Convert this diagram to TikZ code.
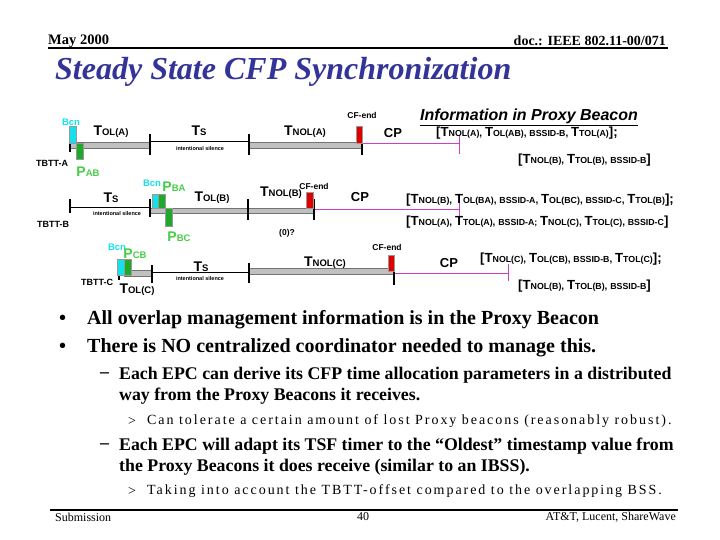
\documentclass[tikz,border=0pt]{standalone}
\usepackage{fontspec}
\setmainfont{Liberation Serif}
\setsansfont{Liberation Sans}
\usetikzlibrary{positioning}

\definecolor{titleblue}{RGB}{51,51,153}
\definecolor{bcncyan}{RGB}{20,225,235}
\definecolor{pgreen}{RGB}{30,170,40}
\definecolor{lblgreen}{RGB}{70,205,70}
\definecolor{cpmag}{RGB}{205,60,205}
\definecolor{cfred}{RGB}{225,0,0}
\definecolor{bargray}{RGB}{192,192,192}

\newcommand{\sz}[1]{\fontsize{#1}{#1}\selectfont}
% big letter + small caps-like suffix
\newcommand{\bigT}[2]{{\sz{14}#1}{\sz{9.5}#2}}
\newcommand{\smT}[2]{{\sz{13.2}#1}{\sz{8.8}#2}}

\begin{document}
\begin{tikzpicture}[x=1pt,y=-1pt,
    lbl/.style={font=\sffamily\bfseries,inner sep=0pt},
    tlbl/.style={lbl,font=\sffamily\bfseries\sz{9}},
    silence/.style={lbl,font=\sffamily\bfseries\sz{5.5}},
    cplbl/.style={lbl,font=\sffamily\bfseries\sz{13}},
    cflbl/.style={lbl,font=\sffamily\bfseries\sz{8.5}},
    bcnlbl/.style={lbl,font=\sffamily\bfseries\sz{9.5},text=bcncyan},
    plbl/.style={lbl,text=lblgreen},
    info/.style={lbl,anchor=west},
    tickmark/.style={line width=2.2pt},
    grbar/.style={fill=bargray,draw=black!55,line width=0.4pt},
    silent/.style={line width=1pt},
    cpline/.style={cpmag,line width=0.9pt},
    bcnbox/.style={fill=bcncyan,draw=black!40,line width=0.3pt},
    pbox/.style={fill=pgreen,draw=black!40,line width=0.3pt},
    cfbox/.style={fill=cfred,draw=black!40,line width=0.3pt},
    bul/.style={anchor=west,inner sep=0pt,font=\bfseries\sz{20}},
    sub/.style={anchor=west,inner sep=0pt,font=\bfseries\sz{17.8}},
    subsub/.style={anchor=west,inner sep=0pt,font=\sz{14}\addfontfeature{LetterSpace=14}},
    foot/.style={inner sep=0pt,font=\sz{12}}]
  \useasboundingbox (0,0) rectangle (720,540);

  % header
  \node[anchor=west,inner sep=0pt,font=\bfseries\sz{14.5}] (hdate) at (48,41) {May 2000};
  \node[anchor=east,inner sep=0pt,font=\bfseries\sz{14}] (hdoc) at (666,41) {doc.: IEEE 802.11-00/071};
  \draw[line width=1.6pt] (48,48) -- (668,48);
  \node[anchor=west,inner sep=0pt,text=titleblue,font=\bfseries\itshape\sz{32}] (title) at (55,72)
    {Steady State CFP Synchronization};

  % row A
  \draw[grbar] (70,142) rectangle (150,148);
  \draw[silent] (150,142) -- (249,142);
  \draw[grbar] (249,142) rectangle (362,148);
  \draw[cpline] (362,143) -- (459,143);
  \draw[cpline] (459,135) -- (459,154);
  \draw[tickmark] (70,142) -- (70,152);
  \draw[tickmark] (150,134) -- (150,155);
  \draw[tickmark] (249,134) -- (249,155);
  \draw[tickmark] (362,142) -- (362,155);
  \draw[bcnbox] (69,126) rectangle (76,143);
  \draw[pbox] (76,143) rectangle (83,159);
  \draw[cfbox] (356,126) rectangle (362,143);
  \node[bcnlbl] (bcnA) at (71,122) {Bcn};
  \node[plbl] (pAB) at (88,172) {\bigT{P}{AB}};
  \node[tlbl] (tbttA) at (52,163) {TBTT-A};
  \node[lbl] (tolA) at (111,132) {\bigT{T}{OL(A)}};
  \node[lbl] (tsA) at (199,131) {\bigT{T}{S}};
  \node[silence] (silA) at (200,149) {intentional silence};
  \node[lbl] (tnolA) at (305,132) {\bigT{T}{NOL(A)}};
  \node[cflbl] (cfA) at (362,115) {CF-end};
  \node[cplbl] (cpA) at (393,133) {CP};

  % proxy beacon info
  \node[lbl,font=\sffamily\bfseries\itshape\sz{16}] (infohd) at (529,117)
    {\underline{Information in Proxy Beacon}};
  \node[info] (infoA1) at (436,133)
    {\smT{[T}{NOL(A)}, \smT{T}{OL(AB)}, {\sz{8.8}BSSID-B}, \smT{T}{TOL(A)}\smT{];}{}};
  \node[info] (infoA2) at (518,160)
    {\smT{[T}{NOL(B)}, \smT{T}{TOL(B)}, {\sz{8.8}BSSID-B}\smT{]}{}};

  % row B
  \draw[silent] (70,208) -- (150,208);
  \draw[grbar] (150,208) rectangle (314,213);
  \draw[cpline] (314,209) -- (459,209);
  \draw[cpline] (459,201) -- (459,218);
  \draw[tickmark] (70,199) -- (70,213);
  \draw[tickmark] (150,199) -- (150,217);
  \draw[tickmark] (248,199) -- (248,220);
  \draw[tickmark] (314,199) -- (314,220);
  \draw[bcnbox] (152,194) rectangle (158,208);
  \draw[pbox] (158,194) rectangle (165,208);
  \draw[pbox] (165,208) rectangle (172,226);
  \draw[cfbox] (306,192) rectangle (313,208);
  \node[tlbl] (tbttB) at (53,224) {TBTT-B};
  \node[lbl] (tsB) at (111,198) {\bigT{T}{S}};
  \node[silence] (silB) at (117,214) {intentional silence};
  \node[bcnlbl] (bcnB) at (152,183) {Bcn};
  \node[plbl] (pBA) at (174,187) {\bigT{P}{BA}};
  \node[plbl] (pBC) at (179,237) {\bigT{P}{BC}};
  \node[lbl] (tolB) at (212,198) {\bigT{T}{OL(B)}};
  \node[lbl] (tnolB) at (281,193) {\bigT{T}{NOL(B)}};
  \node[cflbl] (cfB) at (314,186) {CF-end};
  \node[tlbl,font=\sffamily\bfseries\sz{8.5}] (zeroB) at (287,233) {(0)?};
  \node[cplbl] (cpB) at (360,197) {CP};
  \node[info] (infoB1) at (406,200)
    {\smT{[T}{NOL(B)}, \smT{T}{OL(BA)}, {\sz{8.8}BSSID-A}, \smT{T}{OL(BC)}, {\sz{8.8}BSSID-C}, \smT{T}{TOL(B)}\smT{];}{}};
  \node[info] (infoB2) at (406,222)
    {\smT{[T}{NOL(A)}, \smT{T}{TOL(A)}, {\sz{8.8}BSSID-A;} \smT{T}{NOL(C)}, \smT{T}{TOL(C)}, {\sz{8.8}BSSID-C}\smT{]}{}};

  % row C
  \draw[grbar] (124,270) rectangle (152,276);
  \draw[silent] (152,272) -- (249,272);
  \draw[grbar] (249,268) rectangle (394,274);
  \draw[cpline] (394,273) -- (508,273);
  \draw[cpline] (508,264) -- (508,281);
  \draw[tickmark] (119,274) -- (119,280);
  \draw[tickmark] (152,265) -- (152,283);
  \draw[tickmark] (249,263) -- (249,283);
  \draw[tickmark] (394,268) -- (394,285);
  \draw[bcnbox] (117,259) rectangle (124,275);
  \draw[pbox] (124,259) rectangle (131,275);
  \draw[cfbox] (388,255) rectangle (394,271);
  \node[bcnlbl] (bcnC) at (117,247) {Bcn};
  \node[plbl] (pCB) at (135,254) {\bigT{P}{CB}};
  \node[tlbl] (tbttC) at (97,282) {TBTT-C};
  \node[lbl] (tolC) at (137,290) {\bigT{T}{OL(C)}};
  \node[lbl] (tsC) at (201,267) {\bigT{T}{S}};
  \node[silence] (silC) at (200,279) {intentional silence};
  \node[lbl] (tnolC) at (325,263) {\bigT{T}{NOL(C)}};
  \node[cflbl] (cfC) at (387,247) {CF-end};
  \node[cplbl] (cpC) at (449,263) {CP};
  \node[info] (infoC1) at (480,259)
    {\smT{[T}{NOL(C)}, \smT{T}{OL(CB)}, {\sz{8.8}BSSID-B}, \smT{T}{TOL(C)}\smT{];}{}};
  \node[info] (infoC2) at (518,286)
    {\smT{[T}{NOL(B)}, \smT{T}{TOL(B)}, {\sz{8.8}BSSID-B}\smT{]}{}};

  % bullets
  \node[bul] (b1m) at (59,320) {\textbullet};
  \node[bul] (b1) at (87,320) {All overlap management information is in the Proxy Beacon};
  \node[bul] (b2m) at (59,348) {\textbullet};
  \node[bul] (b2) at (87,348) {There is NO centralized coordinator needed to manage this.};
  \node[sub] (s1m) at (100,375) {--};
  \node[sub] (s1) at (119,375) {Each EPC can derive its CFP time allocation parameters in a distributed};
  \node[sub] (s1b) at (119,396) {way from the Proxy Beacons it receives.};
  \node[subsub] (t1m) at (128,421) {>};
  \node[subsub] (t1) at (147,421) {Can tolerate a certain amount of lost Proxy beacons (reasonably robust).};
  \node[sub] (s2m) at (100,446) {--};
  \node[sub] (s2) at (119,446) {Each EPC will adapt its TSF timer to the “Oldest” timestamp value from};
  \node[sub] (s2b) at (119,467) {the Proxy Beacons it does receive (similar to an IBSS).};
  \node[subsub] (t2m) at (128,491) {>};
  \node[subsub] (t2) at (147,491) {Taking into account the TBTT-offset compared to the overlapping BSS.};

  % footer
  \draw[line width=1.6pt] (50,510) -- (678,510);
  \node[foot,anchor=west] (fsub) at (55,517) {Submission};
  \node[foot] (fpage) at (363,517) {40};
  \node[foot,anchor=east] (fauth) at (676,517) {AT\&T, Lucent, ShareWave};
\end{tikzpicture}
\end{document}
